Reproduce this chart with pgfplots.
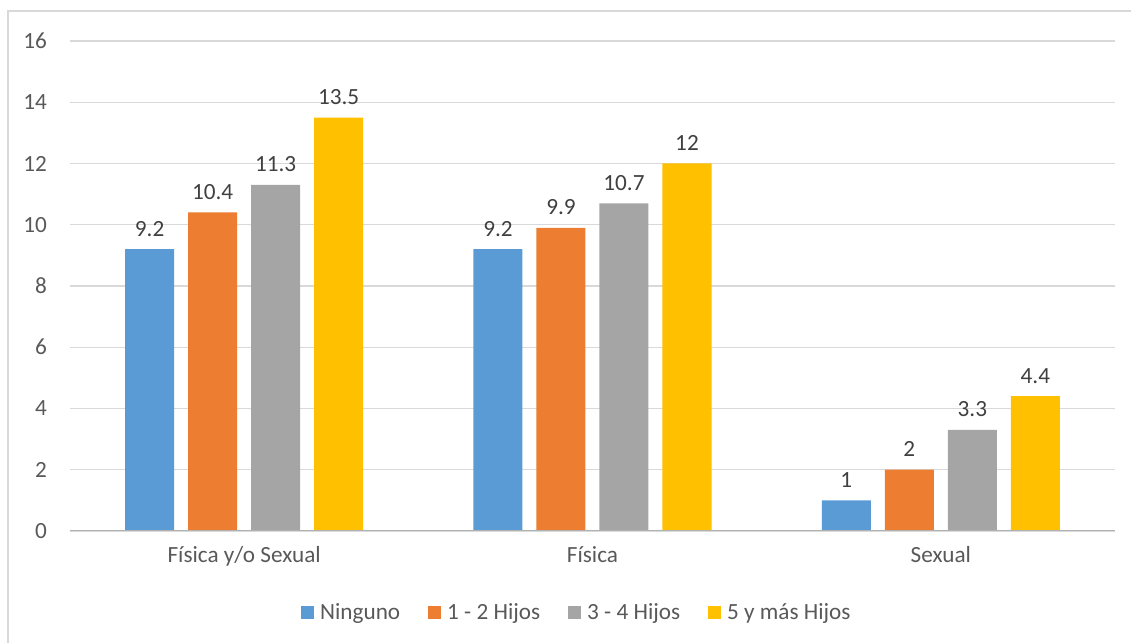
\documentclass[border=0pt]{standalone}
\usepackage{pgfplots}
\pgfplotsset{compat=1.18}
\usepackage{fontspec}
\setmainfont{Carlito}
\definecolor{cblue}{HTML}{5B9BD5}
\definecolor{corange}{HTML}{ED7D31}
\definecolor{cgray}{HTML}{A5A5A5}
\definecolor{cgold}{HTML}{FFC000}
\definecolor{txt}{HTML}{595959}
\definecolor{gridc}{HTML}{D9D9D9}
\begin{document}
\begin{tikzpicture}
\useasboundingbox (-35pt,-56pt) rectangle (530.5pt,265.5pt);
\draw[gridc,line width=0.8pt] (-31pt,-70pt) -- (-31pt,260pt) -- (545pt,260pt);
\begin{axis}[
  at={(0pt,0pt)}, anchor=south west,
  scale only axis, width=522.5pt, height=245pt,
  ybar=7pt, bar width=24.5pt,
  xmin=-0.5, xmax=2.5, ymin=0, ymax=16,
  xtick={0,1,2},
  xticklabels={Física y/o Sexual, Física, Sexual},
  ytick={0,2,...,16},
  major tick length=0pt,
  axis line style={draw=none},
  xmajorgrids=false, ymajorgrids=true,
  y grid style={gridc, line width=0.7pt},
  font=\fontsize{11.6}{14}\selectfont,
  tick label style={text=txt},
  /pgf/number format/assume math mode=true,
  yticklabel style={anchor=east, xshift=-8pt},
  xticklabel style={yshift=-4pt},
  nodes near coords,
  nodes near coords style={text=black!75, font=\fontsize{11.6}{14}\selectfont, yshift=3pt},
  legend style={at={(0.486,-0.167)}, anchor=center, draw=none, legend columns=4,
    font=\fontsize{11.6}{14}\selectfont, text=txt,
    /tikz/every odd column/.append style={column sep=1pt},
    /tikz/every even column/.append style={column sep=12pt}},
  legend image code/.code={\fill[#1] (0pt,-3.25pt) rectangle (6.5pt,3.25pt);},
]
\addplot[fill=cblue, draw=none] coordinates {(0,9.2) (1,9.2) (2,1)};
\addplot[fill=corange, draw=none] coordinates {(0,10.4) (1,9.9) (2,2)};
\addplot[fill=cgray, draw=none] coordinates {(0,11.3) (1,10.7) (2,3.3)};
\addplot[fill=cgold, draw=none] coordinates {(0,13.5) (1,12) (2,4.4)};
\legend{Ninguno, 1 - 2 Hijos, 3 - 4 Hijos, 5 y más Hijos}
\draw[black!30, line width=0.8pt] (rel axis cs:0,0) -- (rel axis cs:1,0);
\end{axis}
\end{tikzpicture}
\end{document}
